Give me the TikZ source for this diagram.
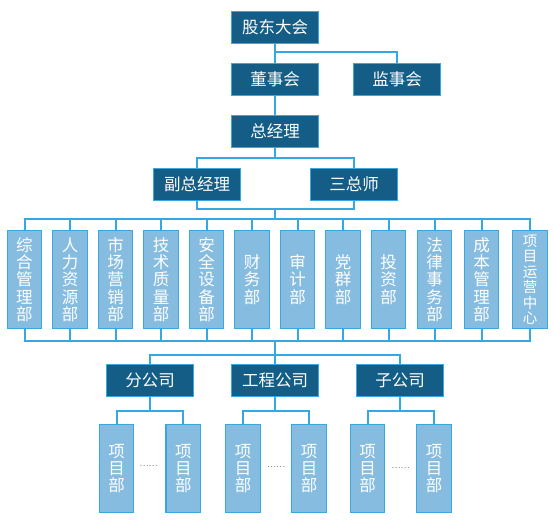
\documentclass[tikz,border=0pt]{standalone}
\usepackage{fontspec}
\newfontfamily\cjk{Noto Sans CJK SC}
\usetikzlibrary{calc}
\definecolor{darkbox}{HTML}{135D86}
\definecolor{lightbox}{HTML}{86BCE0}
\definecolor{edgeblue}{HTML}{3AA8E0}
\definecolor{linkblue}{HTML}{35A8E2}
\tikzset{
  topbox/.style={draw=edgeblue, line width=1pt, fill=darkbox, text=white,
    minimum width=87pt, minimum height=32pt, inner sep=0pt, outer sep=0pt,
    font=\cjk\fontsize{16.5}{18}\selectfont},
  deptbox/.style={draw=edgeblue, line width=1.3pt, fill=lightbox, text=white,
    minimum width=34.5pt, minimum height=98pt, inner sep=0pt, outer sep=0pt,
    align=center, font=\cjk\fontsize{16.5}{17.3}\selectfont},
  projbox/.style={deptbox, minimum width=34.5pt, minimum height=87.5pt,
    font=\cjk\fontsize{16.5}{17}\selectfont},
  link/.style={draw=linkblue, line width=2pt},
  dots/.style={text=gray, inner sep=0pt, font=\cjk\fontsize{8.5}{8.5}\selectfont}
}
\begin{document}
\begin{tikzpicture}[x=1pt,y=-1pt]
\useasboundingbox (0,0) rectangle (554,525);
% top levels
\node[topbox] (gd) at (275,27.5) {股东大会};
\node[topbox] (dsh) at (275,79.5) {董事会};
\node[topbox] (jsh) at (397,79.5) {监事会};
\node[topbox] (zjl) at (275,131) {总经理};
\node[topbox] (fz) at (197,184.5) {副总经理};
\node[topbox] (szs) at (354,184.5) {三总师};
% departments
\node[deptbox] (d1) at (24.5,279.5) {综\\合\\管\\理\\部};
\node[deptbox] (d2) at (70,279.5) {人\\力\\资\\源\\部};
\node[deptbox] (d3) at (115.5,279.5) {市\\场\\营\\销\\部};
\node[deptbox] (d4) at (161,279.5) {技\\术\\质\\量\\部};
\node[deptbox] (d5) at (206.5,279.5) {安\\全\\设\\备\\部};
\node[deptbox] (d6) at (252,279.5) {财\\务\\部};
\node[deptbox] (d7) at (297.5,279.5) {审\\计\\部};
\node[deptbox] (d8) at (343,279.5) {党\\群\\部};
\node[deptbox] (d9) at (388.5,279.5) {投\\资\\部};
\node[deptbox] (d10) at (434.5,279.5) {法\\律\\事\\务\\部};
\node[deptbox] (d11) at (481.5,279.5) {成\\本\\管\\理\\部};
\node[deptbox, font=\cjk\fontsize{14.5}{15.5}\selectfont] (d12) at (530,279.5) {项\\目\\运\\营\\中\\心};
% companies
\node[topbox] (c1) at (150,380.7) {分公司};
\node[topbox] (c2) at (275,380.7) {工程公司};
\node[topbox] (c3) at (400,380.7) {子公司};
% projects
\node[projbox] (p1) at (116.5,468.5) {项\\目\\部};
\node[projbox] (p2) at (183.3,468.5) {项\\目\\部};
\node[projbox] (p3) at (243,468.5) {项\\目\\部};
\node[projbox] (p4) at (309,468.5) {项\\目\\部};
\node[projbox] (p5) at (367.5,468.5) {项\\目\\部};
\node[projbox] (p6) at (434,468.5) {项\\目\\部};
\node[dots] (t1) at (148.5,466) {……};
\node[dots] (t2) at (276,467) {……};
\node[dots] (t3) at (400.5,468) {……};
% junctions
\coordinate (j1) at (275,52.3);
\coordinate (j2) at (275,157.7);
\coordinate (j3) at (275,209.3);
\coordinate (j4) at (275,219.3);
\coordinate (j5) at (275,341.3);
\coordinate (j6) at (275,354.7);
\coordinate (k1) at (150,411.3);
\coordinate (k2) at (275,411.3);
\coordinate (k3) at (400,411.3);
% connectors
\begin{scope}[link]
\draw (gd.south) -- (dsh.north);
\draw (j1) -| (jsh.north);
\draw (dsh.south) -- (zjl.north);
\draw (zjl.south) -- (j2);
\draw (fz.north) |- (j2) -| (szs.north);
\draw (fz.south) |- (j3) -| (szs.south);
\draw (j3) -- (j4);
\draw (d1.north) |- (j4) -| (d12.north);
\draw (d1.south) |- (j5) -| (d12.south);
\foreach \i in {2,...,11} {
  \draw (d\i.north) -- (d\i.north |- j4);
  \draw (d\i.south) -- (d\i.south |- j5);
}
\draw (j5) -- (j6);
\draw (c1.north) |- (j6) -| (c3.north);
\draw (j6) -- (c2.north);
\draw (c1.south) -- (k1);
\draw (c2.south) -- (k2);
\draw (c3.south) -- (k3);
\draw (p1.north) |- (k1) -| (p2.north);
\draw (p3.north) |- (k2) -| (p4.north);
\draw (p5.north) |- (k3) -| (p6.north);
\end{scope}
\end{tikzpicture}
\end{document}
